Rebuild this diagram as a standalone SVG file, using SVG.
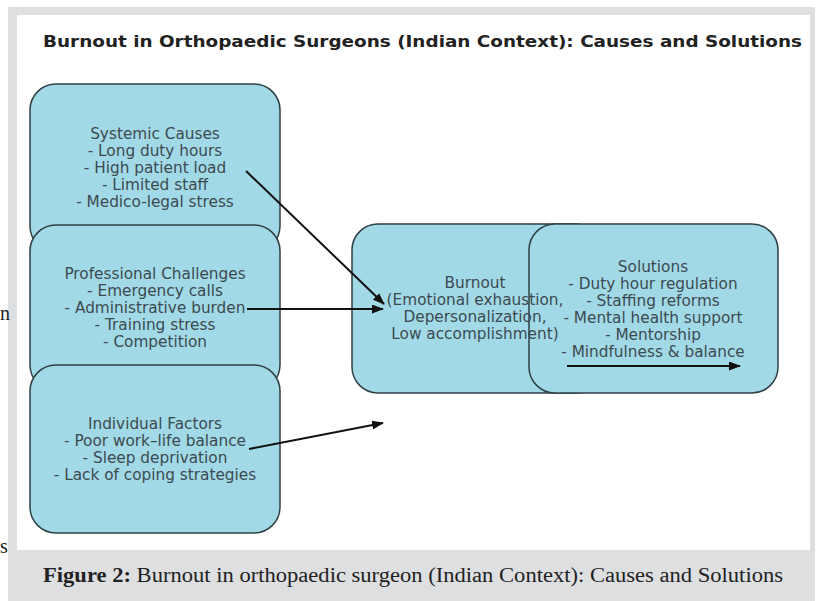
<svg xmlns="http://www.w3.org/2000/svg" width="820" height="601" viewBox="0 0 820 601">
<style>
.box{fill:#a2d9e7;stroke:#2f3f44;stroke-width:1.5}
.nt{font-family:"DejaVu Sans",sans-serif;font-size:15.3px;fill:#3b4a50;text-anchor:middle}
.conn{stroke:#111;stroke-width:2;fill:none;marker-end:url(#ah)}
.stray{font-family:"Liberation Serif",serif;font-size:20px;fill:#222}
</style>
<defs>
<marker id="ah" markerUnits="userSpaceOnUse" markerWidth="12" markerHeight="9" refX="11" refY="4.5" orient="auto">
<path d="M0,0 L12,4.5 L0,9 z" fill="#111"/>
</marker>
</defs>
<rect x="0" y="0" width="820" height="601" fill="#ffffff"/>
<rect x="8" y="7" width="807" height="594" fill="#dedfe0"/>
<rect x="17" y="15" width="793" height="535" fill="#ffffff"/>
<text class="stray" x="0" y="320">n</text>
<text class="stray" x="0" y="553">s</text>
<text x="43" y="47" font-family="DejaVu Sans,sans-serif" font-weight="bold" font-size="16" fill="#222" textLength="759" lengthAdjust="spacingAndGlyphs">Burnout in Orthopaedic Surgeons (Indian Context): Causes and Solutions</text>
<g id="systemic">
<rect class="box" x="30" y="84" width="250" height="168" rx="26"/>
</g>
<g id="professional">
<rect class="box" x="30" y="225" width="250" height="166" rx="26"/>
</g>
<g id="individual">
<rect class="box" x="30" y="365" width="250" height="168" rx="26"/>
</g>
<g id="burnout">
<rect class="box" x="352" y="224" width="250" height="169" rx="26"/>
</g>
<g id="solutions">
<rect class="box" x="529" y="224" width="249" height="169" rx="26"/>
</g>
<g id="labels">
<text class="nt" x="155" y="139">Systemic Causes</text>
<text class="nt" x="155" y="156">- Long duty hours</text>
<text class="nt" x="155" y="173">- High patient load</text>
<text class="nt" x="155" y="190">- Limited staff</text>
<text class="nt" x="155" y="207">- Medico-legal stress</text>
<text class="nt" x="155" y="279">Professional Challenges</text>
<text class="nt" x="155" y="296">- Emergency calls</text>
<text class="nt" x="155" y="313">- Administrative burden</text>
<text class="nt" x="155" y="330">- Training stress</text>
<text class="nt" x="155" y="347">- Competition</text>
<text class="nt" x="155" y="429">Individual Factors</text>
<text class="nt" x="155" y="446">- Poor work–life balance</text>
<text class="nt" x="155" y="463">- Sleep deprivation</text>
<text class="nt" x="155" y="480">- Lack of coping strategies</text>
<text class="nt" x="475" y="288">Burnout</text>
<text class="nt" x="475" y="305">(Emotional exhaustion,</text>
<text class="nt" x="475" y="322">Depersonalization,</text>
<text class="nt" x="475" y="339">Low accomplishment)</text>
<text class="nt" x="653" y="272">Solutions</text>
<text class="nt" x="653" y="289">- Duty hour regulation</text>
<text class="nt" x="653" y="306">- Staffing reforms</text>
<text class="nt" x="653" y="323">- Mental health support</text>
<text class="nt" x="653" y="340">- Mentorship</text>
<text class="nt" x="653" y="357">- Mindfulness &amp; balance</text>
</g>
<g id="connectors">
<line class="conn" x1="246" y1="171" x2="384" y2="304"/>
<line class="conn" x1="247" y1="309" x2="383" y2="309"/>
<line class="conn" x1="249" y1="449" x2="383" y2="423"/>
<line class="conn" x1="567" y1="366" x2="740" y2="366"/>
</g>
<text x="43" y="582" font-family="Liberation Serif,serif" font-size="20" fill="#222" textLength="740" lengthAdjust="spacingAndGlyphs"><tspan font-weight="bold">Figure 2:</tspan> Burnout in orthopaedic surgeon (Indian Context): Causes and Solutions</text>
</svg>
